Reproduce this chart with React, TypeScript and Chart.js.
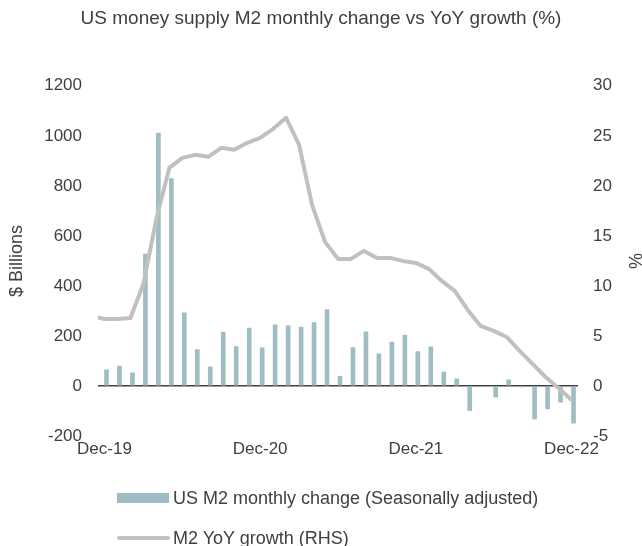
import React, { useEffect, useRef } from "react";
import { Chart, registerables } from "chart.js";

Chart.register(...registerables);

// ---- Data ----
const months = [
  "Dec-19", "Jan-20", "Feb-20", "Mar-20", "Apr-20", "May-20", "Jun-20", "Jul-20", "Aug-20", "Sep-20", "Oct-20", "Nov-20",
  "Dec-20", "Jan-21", "Feb-21", "Mar-21", "Apr-21", "May-21", "Jun-21", "Jul-21", "Aug-21", "Sep-21", "Oct-21", "Nov-21",
  "Dec-21", "Jan-22", "Feb-22", "Mar-22", "Apr-22", "May-22", "Jun-22", "Jul-22", "Aug-22", "Sep-22", "Oct-22", "Nov-22",
  "Dec-22",
];

// US M2 monthly change ($ Billions), Dec-19 .. Dec-22
const monthlyChange = [
  65, 80, 53, 527, 1011, 829, 292, 145, 77, 215, 157, 231,
  152, 244, 240, 235, 253, 305, 39, 153, 216, 128, 175, 203,
  137, 156, 56, 29, -99, -3, -45, 25, -4, -132, -92, -65,
  -149,
];

// M2 YoY growth (%), Nov-19 .. Dec-22 (the Nov-19 point sits just left of the plot)
const yoyMonths = ["Nov-19", ...months];
const yoyGrowth = [
  7.0,
  6.7, 6.7, 6.8, 10.2, 16.7, 21.8, 22.8, 23.1, 22.9, 23.8, 23.6, 24.3,
  24.8, 25.7, 26.8, 24.1, 18.1, 14.4, 12.7, 12.7, 13.5, 12.8, 12.8, 12.5,
  12.3, 11.7, 10.5, 9.5, 7.6, 6.0, 5.5, 4.9, 3.5, 2.2, 0.9, -0.2,
  -1.4,
];

const xTickLabels = ["Dec-19", "Dec-20", "Dec-21", "Dec-22"];

// ---- Styles ----
const TEXT = "#404040";
const FONT = "'Liberation Sans', Arial, Helvetica, sans-serif";
const BAR = "#9FBDC2";
const LINE = "#C0C0C0";

export default function App() {
  const ref = useRef<HTMLCanvasElement>(null);

  useEffect(() => {
    if (!ref.current) return;
    Chart.defaults.font.family = FONT;
    Chart.defaults.color = TEXT;

    const lineData = yoyGrowth.map((v, i) => {
      const idx = months.indexOf(yoyMonths[i]);
      return { x: idx === -1 ? -1 : idx, y: v };
    });

    const chart = new Chart(ref.current, {
      type: "bar",
      data: {
        labels: months,
        datasets: [
          {
            type: "line",
            label: "M2 YoY growth (RHS)",
            data: lineData as any,
            xAxisID: "x2",
            yAxisID: "y1",
            borderColor: LINE,
            backgroundColor: LINE,
            borderWidth: 4,
            pointRadius: 0,
            tension: 0,
            borderJoinStyle: "round",
            clip: { left: 0, right: 6, top: 6, bottom: 6 } as any,
            order: 0,
          },
          {
            type: "bar",
            label: "US M2 monthly change (Seasonally adjusted)",
            data: monthlyChange,
            xAxisID: "x",
            yAxisID: "y",
            backgroundColor: BAR,
            borderWidth: 0,
            barThickness: 4,
            order: 1,
          },
        ],
      },
      options: {
        responsive: false,
        maintainAspectRatio: false,
        animation: false,
        layout: { padding: 0 },
        plugins: {
          legend: { display: false },
          tooltip: { enabled: false },
          title: {
            display: true,
            text: "US money supply M2 monthly change vs YoY growth (%)",
            color: TEXT,
            font: { family: FONT, size: 19, weight: "normal" },
            padding: { top: 7, bottom: 56 },
          },
        },
        scales: {
          x: {
            type: "category",
            offset: true,
            grid: { display: false, drawTicks: false },
            border: { display: false },
            ticks: {
              autoSkip: false,
              maxRotation: 0,
              minRotation: 0,
              padding: 3,
              color: TEXT,
              font: { family: FONT, size: 17 },
              callback: (_v: any, i: number) => (xTickLabels.includes(months[i]) ? months[i] : ""),
            },
            afterFit: (s: any) => {
              s.height = 110;
            },
          },
          x2: {
            type: "linear",
            display: false,
            min: -0.5,
            max: months.length - 0.5,
            offset: false,
          },
          y: {
            position: "left",
            min: -200,
            max: 1200,
            z: 1,
            ticks: {
              stepSize: 200,
              padding: 16,
              color: TEXT,
              font: { family: FONT, size: 17 },
              callback: (v: any) => String(v),
            },
            grid: {
              drawTicks: false,
              color: (ctx: any) => (ctx.tick && ctx.tick.value === 0 ? "#404040" : "rgba(0,0,0,0)"),
              lineWidth: 1.5,
            },
            border: { display: false },
            title: {
              display: true,
              text: "$ Billions",
              color: TEXT,
              font: { family: FONT, size: 18 },
              padding: { top: 6, bottom: 0 },
            },
            afterFit: (s: any) => {
              s.width = 98;
            },
          },
          y1: {
            position: "right",
            min: -5,
            max: 30,
            ticks: {
              stepSize: 5,
              padding: 15,
              color: TEXT,
              font: { family: FONT, size: 17 },
              callback: (v: any) => String(v),
            },
            grid: { display: false, drawTicks: false },
            border: { display: false },
            title: {
              display: true,
              text: "%",
              color: TEXT,
              font: { family: FONT, size: 18 },
              padding: { top: -3, bottom: 0 },
            },
            afterFit: (s: any) => {
              s.width = 64;
            },
          },
        },
      } as any,
    });
    return () => chart.destroy();
  }, []);

  const legendRow: React.CSSProperties = {
    position: "absolute",
    left: 117,
    height: 22,
    display: "flex",
    alignItems: "center",
    fontFamily: FONT,
    fontSize: 18,
    lineHeight: "22px",
    color: TEXT,
    whiteSpace: "nowrap",
  };

  return (
    <div
      style={{
        position: "fixed",
        left: 0,
        top: 0,
        width: 642,
        height: 546,
        overflow: "hidden",
        background: "#fff",
      }}
    >
      <canvas ref={ref} width={642} height={546} style={{ position: "absolute", left: 0, top: 0 }} />
      <div style={{ ...legendRow, top: 487 }}>
        <span style={{ display: "inline-block", width: 52, height: 10, background: BAR, marginRight: 4 }} />
        <span>US M2 monthly change (Seasonally adjusted)</span>
      </div>
      <div style={{ ...legendRow, top: 527 }}>
        <span
          style={{ display: "inline-block", width: 53, height: 4, borderRadius: 2, background: LINE, marginRight: 3 }}
        />
        <span>M2 YoY growth (RHS)</span>
      </div>
    </div>
  );
}
